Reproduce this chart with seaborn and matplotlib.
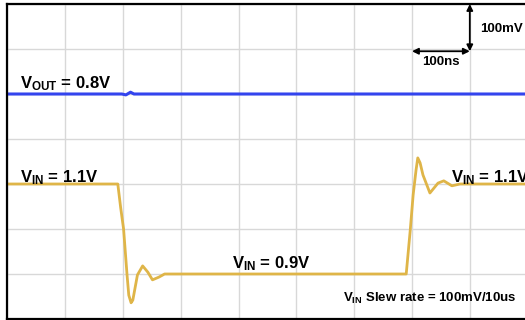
import matplotlib
matplotlib.use("Agg")
import matplotlib.pyplot as plt
import seaborn as sns
import pandas as pd
import numpy as np

# ---- data (read from the scope capture) ----
# time in ns, 100 ns/div ; voltage in V, 100 mV/div
vin_t = [0, 191, 196, 201, 207, 210, 214, 217, 225, 234, 243, 251, 262, 272,
         690, 693, 697, 702, 707, 710, 714, 719, 731, 745, 755, 769, 783, 896]
vin_v = [1.100, 1.100, 1.047, 1.000, 0.898, 0.853, 0.836, 0.842, 0.898, 0.918,
         0.904, 0.887, 0.893, 0.900, 0.900, 0.942, 0.998, 1.076, 1.131, 1.158,
         1.147, 1.120, 1.080, 1.102, 1.107, 1.096, 1.100, 1.100]
vout_t = [0, 198, 205, 213, 219, 896]
vout_v = [0.800, 0.800, 0.798, 0.804, 0.800, 0.800]

vin_offset_div = -8.0    # 1.1 V at div 3, 0.9 V at div 1
vout_offset_div = -3.0   # 0.8 V at div 5

x_per_div = 100.0
x_max = (525 - 7.4) / 57.8 * x_per_div

sns.set_style("white")
plt.rcParams["font.family"] = ["Liberation Sans", "DejaVu Sans"]
plt.rcParams["mathtext.fontset"] = "custom"
plt.rcParams["mathtext.bf"] = "Liberation Sans:bold"
plt.rcParams["mathtext.rm"] = "Liberation Sans:bold"
plt.rcParams["text.color"] = "black"

fig = plt.figure(figsize=(5.25, 3.2), dpi=100)
ax = fig.add_axes([7.4 / 525, 1 / 320, 1 - 7.4 / 525, 315 / 320])

df_in = pd.DataFrame({"t": vin_t, "div": [v / 0.1 + vin_offset_div for v in vin_v]})
df_out = pd.DataFrame({"t": vout_t, "div": [v / 0.1 + vout_offset_div for v in vout_v]})

sns.lineplot(data=df_in, x="t", y="div", ax=ax, color="#DFB548", lw=2.0,
             sort=False, estimator=None)
sns.lineplot(data=df_out, x="t", y="div", ax=ax, color="#3344EE", lw=2.2,
             sort=False, estimator=None)

ax.set_xlim(0, x_max)
ax.set_ylim(0, 7)
ax.set_xticks(np.arange(0, 900, 100))
ax.set_yticks(np.arange(0, 8, 1))
ax.grid(True, color="#d8d8d8", lw=1.0)
ax.set_xticklabels([])
ax.set_yticklabels([])
ax.tick_params(length=0)
ax.set_xlabel("")
ax.set_ylabel("")
for s in ["left", "top", "bottom"]:
    ax.spines[s].set_visible(True)
    ax.spines[s].set_color("black")
    ax.spines[s].set_linewidth(1.6)
ax.spines["right"].set_visible(False)

big = 12
kw = dict(fontsize=big, fontweight="bold", va="baseline", color="black")
ax.text(22, 5.13, r"$\mathbf{V_{OUT}}$ = 0.8V", **kw)
ax.text(22, 3.04, r"$\mathbf{V_{IN}}$ = 1.1V", **kw)
ax.text(768, 3.04, r"$\mathbf{V_{IN}}$ = 1.1V", **kw)
ax.text(389, 1.13, r"$\mathbf{V_{IN}}$ = 0.9V", **kw)
small = dict(fontsize=9.5, fontweight="bold", va="baseline", color="black")
ax.text(581, 0.38, r"$\mathbf{V_{IN}}$ Slew rate = 100mV/10us", **small)
ax.text(817, 6.38, "100mV", **small)
ax.text(718, 5.64, "100ns", **small)

arr = dict(arrowstyle="<|-|>", color="black", lw=1.3, mutation_scale=9,
           shrinkA=0, shrinkB=0)
ax.annotate("", xy=(800, 7.0), xytext=(800, 5.95), arrowprops=arr)
ax.annotate("", xy=(700, 5.95), xytext=(800, 5.95), arrowprops=arr)

fig.savefig("out.png", dpi=100)
